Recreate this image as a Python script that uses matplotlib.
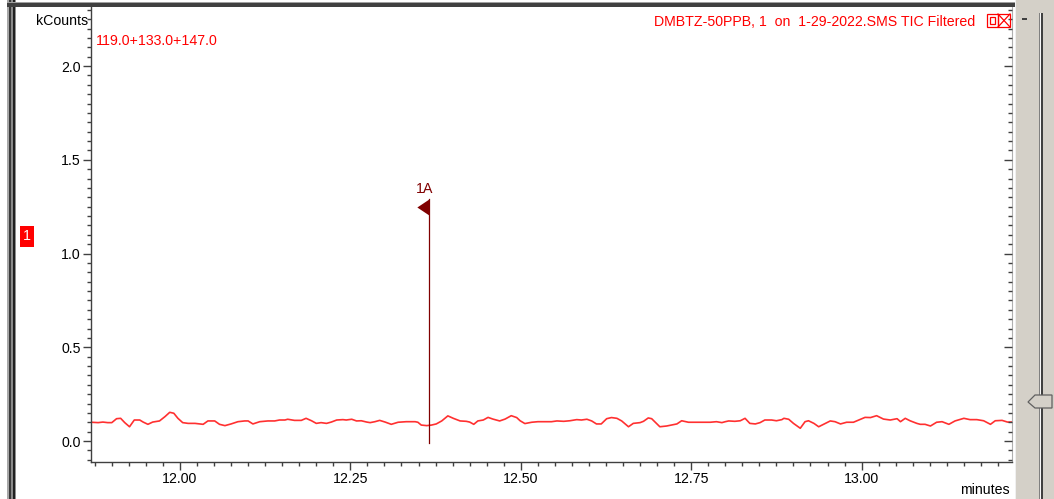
import matplotlib
matplotlib.use("Agg")
import matplotlib.pyplot as plt
from matplotlib.patches import Rectangle, Polygon
from matplotlib.lines import Line2D
from matplotlib.ticker import MultipleLocator, FixedLocator

# ---------------- data ----------------
times = [11.870, 11.880, 11.887, 11.894, 11.900, 11.907, 11.913, 11.919, 11.926, 11.933,
         11.941, 11.946, 11.953, 11.960, 11.970, 11.978, 11.985, 11.991, 11.997, 12.004,
         12.012, 12.022, 12.034, 12.041, 12.051, 12.058, 12.066, 12.075, 12.085, 12.095,
         12.100, 12.107, 12.117, 12.129, 12.139, 12.146, 12.154, 12.158, 12.168, 12.178,
         12.185, 12.193, 12.200, 12.207,
         12.215, 12.222, 12.230, 12.239, 12.244, 12.252, 12.259, 12.266, 12.274, 12.279,
         12.286, 12.293, 12.301, 12.310, 12.320, 12.332, 12.345, 12.349, 12.354, 12.362,
         12.369, 12.376, 12.384, 12.393, 12.401, 12.411, 12.420, 12.425, 12.431, 12.437,
         12.445, 12.452, 12.459, 12.469, 12.477, 12.486, 12.494, 12.499, 12.506, 12.516,
         12.525, 12.538,
         12.545, 12.553, 12.563, 12.572, 12.582, 12.589, 12.597, 12.604, 12.611, 12.618,
         12.626, 12.633, 12.641, 12.648, 12.658, 12.665, 12.675, 12.680, 12.687, 12.692,
         12.699, 12.704, 12.714, 12.721, 12.729, 12.736, 12.746, 12.761, 12.778, 12.787,
         12.795, 12.800, 12.805, 12.814, 12.822, 12.829, 12.836, 12.844, 12.851, 12.858,
         12.868, 12.875, 12.883,
         12.886, 12.893, 12.900, 12.910, 12.917, 12.922, 12.930, 12.937, 12.944, 12.954,
         12.961, 12.969, 12.978, 12.988, 12.996, 13.005, 13.013, 13.022, 13.032, 13.042,
         13.052, 13.057, 13.064, 13.071, 13.081, 13.086, 13.093, 13.101, 13.110, 13.118,
         13.128, 13.137, 13.150, 13.159, 13.169, 13.179, 13.189, 13.196, 13.206, 13.214,
         13.221]

kcounts = [0.100, 0.098, 0.101, 0.098, 0.098, 0.119, 0.121, 0.098, 0.076, 0.112,
           0.112, 0.101, 0.089, 0.101, 0.107, 0.130, 0.153, 0.148, 0.121, 0.098,
           0.094, 0.094, 0.089, 0.107, 0.107, 0.089, 0.082, 0.091, 0.103, 0.107,
           0.107, 0.091, 0.103, 0.107, 0.107, 0.112, 0.112, 0.116, 0.110, 0.110,
           0.121, 0.108, 0.094, 0.098,
           0.094, 0.101, 0.112, 0.114, 0.112, 0.116, 0.107, 0.108, 0.101, 0.098,
           0.103, 0.110, 0.101, 0.089, 0.100, 0.103, 0.103, 0.100, 0.085, 0.082,
           0.085, 0.091, 0.107, 0.134, 0.121, 0.107, 0.105, 0.101, 0.089, 0.107,
           0.112, 0.126, 0.117, 0.107, 0.117, 0.135, 0.125, 0.108, 0.093, 0.100,
           0.103, 0.103,
           0.103, 0.107, 0.105, 0.108, 0.114, 0.112, 0.116, 0.107, 0.091, 0.091,
           0.119, 0.125, 0.121, 0.107, 0.076, 0.094, 0.098, 0.105, 0.123, 0.119,
           0.094, 0.076, 0.080, 0.085, 0.091, 0.108, 0.100, 0.100, 0.100, 0.103,
           0.098, 0.103, 0.107, 0.105, 0.108, 0.121, 0.094, 0.091, 0.098, 0.112,
           0.112, 0.108, 0.114,
           0.121, 0.116, 0.094, 0.068, 0.103, 0.108, 0.094, 0.076, 0.089, 0.107,
           0.103, 0.091, 0.100, 0.100, 0.112, 0.126, 0.125, 0.135, 0.117, 0.112,
           0.119, 0.103, 0.121, 0.108, 0.094, 0.089, 0.089, 0.080, 0.100, 0.103,
           0.089, 0.107, 0.121, 0.114, 0.114, 0.108, 0.089, 0.108, 0.110, 0.101,
           0.101]

peak_label = "1A"
peak_time = 12.365
peak_flag = 1.25
peak_top = 1.29
peak_bottom = -0.012

x_ticks = [12.00, 12.25, 12.50, 12.75, 13.00]
x_ticklabels = ["12.00", "12.25", "12.50", "12.75", "13.00"]
y_ticks = [0.0, 0.5, 1.0, 1.5, 2.0]
y_ticklabels = ["0.0", "0.5", "1.0", "1.5", "2.0"]

title_text = "DMBTZ-50PPB, 1  on  1-29-2022.SMS TIC Filtered"
ions_text = "119.0+133.0+147.0"
y_unit = "kCounts"
x_unit = "minutes"
trace_number = "1"

# ---------------- figure ----------------
W, H = 1054, 499
plt.rcParams['font.family'] = ['Liberation Sans', 'DejaVu Sans']
fig = plt.figure(figsize=(W / 100, H / 100), dpi=100)
fig.patch.set_facecolor('white')

def fx(x):
    return x / W

def fy(y):
    return 1 - y / H

ax = fig.add_axes([fx(91), fy(462), fx(1012) - fx(91), fy(7) - fy(462)])
ax.set_facecolor('white')
ax.set_xlim(11.8695, 13.2206)
ax.set_ylim(-0.112, 2.315)

MAROON = '#800000'
FS = 10.2

ax.plot(times, kcounts, color='#ff3030', lw=1.2, solid_joinstyle='round')

# peak marker
ax.plot([peak_time, peak_time], [peak_bottom, peak_top], color=MAROON, lw=0.9)
ax.plot([peak_time], [peak_flag], linestyle='none', color=MAROON,
        marker=[(0, 1), (0, -1), (-1.5, 0), (0, 1)], markersize=17.5, markeredgewidth=0)
ax.annotate(peak_label, (peak_time, peak_top), xytext=(-3, 7), textcoords='offset points',
            ha='center', va='center', color=MAROON, fontsize=FS)

# ticks
ax.xaxis.set_major_locator(FixedLocator(x_ticks))
ax.set_xticklabels(x_ticklabels)
ax.xaxis.set_minor_locator(MultipleLocator(0.025))
ax.yaxis.set_major_locator(FixedLocator(y_ticks))
ax.set_yticklabels(y_ticklabels)
ax.yaxis.set_minor_locator(MultipleLocator(0.05))
ax.tick_params(which='major', direction='out', length=6, width=1.0, color='#404040',
               labelsize=FS, pad=1.5, labelcolor='black')
ax.tick_params(which='minor', direction='out', length=3.2, width=1.0, color='#404040')

ax.spines['top'].set_visible(False)
ax.spines['right'].set_color('#b0b0b0')
ax.spines['right'].set_linewidth(0.8)
for s in ('left', 'bottom'):
    ax.spines[s].set_color('#404040')
    ax.spines[s].set_linewidth(1.0)

ax2 = ax.twinx()
ax2.set_ylim(ax.get_ylim())
ax2.yaxis.set_major_locator(FixedLocator(y_ticks))
ax2.yaxis.set_minor_locator(MultipleLocator(0.05))
ax2.tick_params(which='major', direction='in', length=6, width=1.0, color='#404040',
                labelright=False)
ax2.tick_params(which='minor', direction='in', length=3.2, width=1.0, color='#404040')
for s in ('top', 'left', 'bottom', 'right'):
    ax2.spines[s].set_visible(False)

# texts
fig.text(fx(975), fy(22), title_text, ha='right', va='center', color='#ff0000', fontsize=FS)
fig.text(fx(96), fy(41), ions_text, ha='left', va='center', color='#ff0000', fontsize=FS)
fig.text(fx(88), fy(21), y_unit, ha='right', va='center', color='black', fontsize=FS)
fig.text(fx(1010), fy(490), x_unit, ha='right', va='center', color='black', fontsize=FS)

# trace number box
fig.patches.append(Rectangle((fx(20), fy(247)), fx(14), fy(226) - fy(247),
                             transform=fig.transFigure, facecolor='#ff0000', edgecolor='none'))
fig.text(fx(27), fy(236.5), trace_number, ha='center', va='center', color='white', fontsize=FS)

# icons top right
def frect(x0, y0, x1, y1, **kw):
    fig.patches.append(Rectangle((fx(x0), fy(y1)), fx(x1 - x0), fy(y0) - fy(y1),
                                 transform=fig.transFigure, **kw))

frect(987, 14, 998, 27, facecolor='none', edgecolor='#ff0000', lw=0.9)
frect(990, 17, 995, 24, facecolor='none', edgecolor='#ff0000', lw=0.9)
frect(998, 14, 1010, 27, facecolor='none', edgecolor='#ff0000', lw=0.9)
fig.lines.append(Line2D([fx(998), fx(1010)], [fy(14), fy(27)], transform=fig.transFigure,
                        color='#ff0000', lw=0.9))
fig.lines.append(Line2D([fx(998), fx(1010)], [fy(27), fy(14)], transform=fig.transFigure,
                        color='#ff0000', lw=0.9))

# window frame: left bars
for x0, x1, c in [(7, 9, '#a8a8a8'), (9, 11, '#3a3a3a'), (11, 13, '#8a8a8a'),
                  (13, 15, '#202020'), (15, 16, '#909090')]:
    frect(x0, 0, x1, H, facecolor=c, edgecolor='none')
# top bar
frect(7, 3, 1015, 7, facecolor='#404040', edgecolor='none')
frect(7, 2, 1015, 3, facecolor='#a0a0a0', edgecolor='none')

# scrollbar
frect(1015, 0, W, H, facecolor='#d4d0c8', edgecolor='none')
frect(1015, 0, 1016.2, H, facecolor='#f0f0f0', edgecolor='none')
frect(1022, 18.5, 1027, 19.7, facecolor='#404040', edgecolor='none', zorder=3)
frect(1038.5, 13, 1040, H, facecolor='#808080', edgecolor='none', zorder=3)
frect(1040, 13, 1041, H, facecolor='#f8f8f8', edgecolor='none', zorder=3)
frect(1041, 13, 1042.5, H, facecolor='#404040', edgecolor='none', zorder=3)
thumb = [(1028, 402), (1035, 395), (1052, 395), (1052, 408), (1035, 408)]
fig.patches.append(Polygon([(fx(a), fy(b)) for a, b in thumb], closed=True,
                           transform=fig.transFigure, facecolor='#d4d0c8',
                           edgecolor='#606060', lw=0.9, zorder=4))

fig.savefig('out.png', dpi=100, facecolor='white')
